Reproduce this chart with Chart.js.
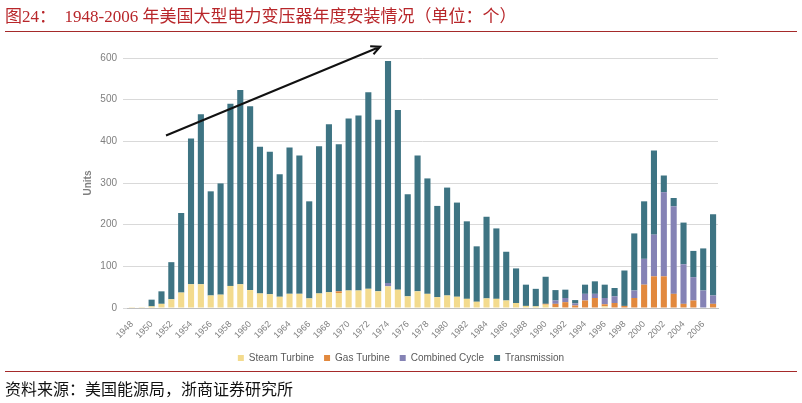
<!DOCTYPE html>
<html>
<head>
<meta charset="utf-8">
<script src="https://cdn.jsdelivr.net/npm/chart.js@4.4.1/dist/chart.umd.min.js"></script>
<style>
    html, body { margin: 0; padding: 0; background: #fff; }
    #wrap { position: relative; width: 802px; height: 403px; overflow: hidden; }
    #chart { position: absolute; left: 0; top: 0; }
    .title {
        position: absolute; left: 5px; top: 2px;
        font-family: "Liberation Serif", "Noto Sans CJK SC", serif;
        font-size: 17px; color: #b8262a; white-space: pre;
    }
    .rule { position: absolute; left: 5px; width: 792px; height: 1px; background: #a52a2a; }
    .source {
        position: absolute; left: 5px; top: 376px;
        font-family: "Noto Sans CJK SC", sans-serif;
        font-size: 16px; color: #111;
    }
</style>
</head>
<body>
<div id="wrap">
    <canvas id="chart" width="802" height="403"></canvas>
    <div class="title">图24：  1948-2006 年美国大型电力变压器年度安装情况（单位：个）</div>
    <div class="rule" style="top:31px"></div>
    <div class="rule" style="top:371px"></div>
    <div class="source">资料来源：美国能源局，浙商证券研究所</div>
</div>
<script>
// Annual installs of large power transformers in the US, by use
const years = ['1948','1949','1950','1951','1952','1953','1954','1955','1956','1957',
    '1958','1959','1960','1961','1962','1963','1964','1965','1966','1967',
    '1968','1969','1970','1971','1972','1973','1974','1975','1976','1977',
    '1978','1979','1980','1981','1982','1983','1984','1985','1986','1987',
    '1988','1989','1990','1991','1992','1993','1994','1995','1996','1997',
    '1998','1999','2000','2001','2002','2003','2004','2005','2006','2007'];

const steamTurbine = [2, 2, 4, 10, 21, 37, 57, 57, 30, 32,
    53, 57, 43, 35, 33, 27, 34, 34, 23, 35,
    38, 36, 42, 42, 46, 40, 52, 44, 28, 40,
    34, 26, 30, 27, 22, 15, 23, 22, 18, 12,
    5, 4, 8, 2, 0, 0, 0, 0, 4, 0,
    0, 0, 0, 0, 0, 0, 0, 0, 0, 0];

const gasTurbine = [0, 0, 0, 0, 0, 0, 0, 0, 0, 0,
    0, 0, 0, 0, 0, 0, 0, 0, 0, 0,
    0, 4, 0, 0, 0, 0, 0, 0, 0, 0,
    0, 0, 0, 0, 0, 0, 0, 0, 0, 0,
    0, 0, 2, 8, 14, 6, 18, 24, 5, 12,
    5, 24, 56, 76, 76, 34, 10, 18, 0, 10];

const combinedCycle = [0, 0, 0, 0, 0, 0, 0, 0, 0, 0,
    0, 0, 0, 0, 0, 0, 0, 0, 0, 0,
    0, 0, 0, 0, 0, 0, 8, 0, 0, 0,
    0, 0, 0, 0, 0, 0, 0, 0, 0, 0,
    0, 0, 0, 8, 10, 5, 16, 10, 15, 16,
    0, 18, 62, 100, 202, 210, 95, 56, 42, 20];

const transmission = [0, 0, 16, 30, 89, 191, 350, 408, 250, 267,
    437, 466, 441, 352, 342, 294, 351, 332, 233, 353,
    403, 353, 413, 420, 472, 412, 533, 431, 245, 326,
    277, 219, 259, 226, 186, 133, 196, 169, 117, 83,
    51, 42, 65, 25, 20, 8, 22, 30, 32, 20,
    85, 137, 138, 202, 40, 20, 100, 63, 101, 195];

const yTicks = [0, 100, 200, 300, 400, 500, 600];

// trend arrow drawn over the bars, in data units (category index, units)
const arrowFrom = [3.46, 414];
const arrowTo = [25.2, 627];

const trendArrow = {
    id: 'trendArrow',
    afterDatasetsDraw(chart) {
        const { ctx, scales: { x, y } } = chart;
        const x1 = x.getPixelForValue(arrowFrom[0]), y1 = y.getPixelForValue(arrowFrom[1]);
        const x2 = x.getPixelForValue(arrowTo[0]), y2 = y.getPixelForValue(arrowTo[1]);
        const ang = Math.atan2(y2 - y1, x2 - x1);
        ctx.save();
        ctx.strokeStyle = '#111';
        ctx.lineWidth = 2;
        ctx.beginPath();
        ctx.moveTo(x1, y1);
        ctx.lineTo(x2, y2);
        ctx.moveTo(x2 - 10 * Math.cos(ang - 0.45), y2 - 10 * Math.sin(ang - 0.45));
        ctx.lineTo(x2, y2);
        ctx.lineTo(x2 - 10 * Math.cos(ang + 0.45), y2 - 10 * Math.sin(ang + 0.45));
        ctx.stroke();
        ctx.restore();
    }
};

const tickFont = { family: 'Liberation Sans', size: 10 };

new Chart(document.getElementById('chart'), {
    type: 'bar',
    data: {
        labels: years,
        datasets: [
            { label: 'Steam Turbine', data: steamTurbine, backgroundColor: '#f3db8e' },
            { label: 'Gas Turbine', data: gasTurbine, backgroundColor: '#e2893e' },
            { label: 'Combined Cycle', data: combinedCycle, backgroundColor: '#8583b5' },
            { label: 'Transmission', data: transmission, backgroundColor: '#3e7483' }
        ]
    },
    options: {
        responsive: false,
        animation: false,
        layout: { padding: { top: 58, right: 0, bottom: 30, left: 0 } },
        datasets: { bar: { categoryPercentage: 1, barPercentage: 0.62 } },
        plugins: {
            legend: {
                position: 'bottom',
                labels: {
                    boxWidth: 6, boxHeight: 6, padding: 10,
                    color: '#595959', font: tickFont
                }
            },
            tooltip: { enabled: false }
        },
        scales: {
            x: {
                stacked: true,
                grid: { display: false },
                border: { color: '#bfbfbf' },
                ticks: {
                    autoSkip: false, minRotation: 45, maxRotation: 45,
                    color: '#7f7f7f', font: { family: 'Liberation Sans', size: 9 },
                    callback: (v, i) => (i % 2 === 0 ? years[i] : '')
                },
                afterFit: s => { s.height = 35; }
            },
            y: {
                stacked: true,
                min: 0, max: 600,
                afterBuildTicks: s => { s.ticks = yTicks.map(v => ({ value: v })); },
                grid: { color: '#d9d9d9', tickLength: 4 },
                border: { display: false },
                ticks: { color: '#7f7f7f', font: tickFont, padding: 6 },
                title: {
                    display: true, text: 'Units', color: '#7f7f7f',
                    padding: { top: 82, bottom: 0 },
                    font: { family: 'Liberation Sans', size: 10, weight: 'bold' }
                },
                afterFit: s => { s.width = 127; }
            },
            yPad: {
                position: 'right',
                grid: { display: false },
                border: { display: false },
                ticks: { display: false },
                afterFit: s => { s.width = 84; }
            }
        }
    },
    plugins: [trendArrow]
});
</script>
</body>
</html>
